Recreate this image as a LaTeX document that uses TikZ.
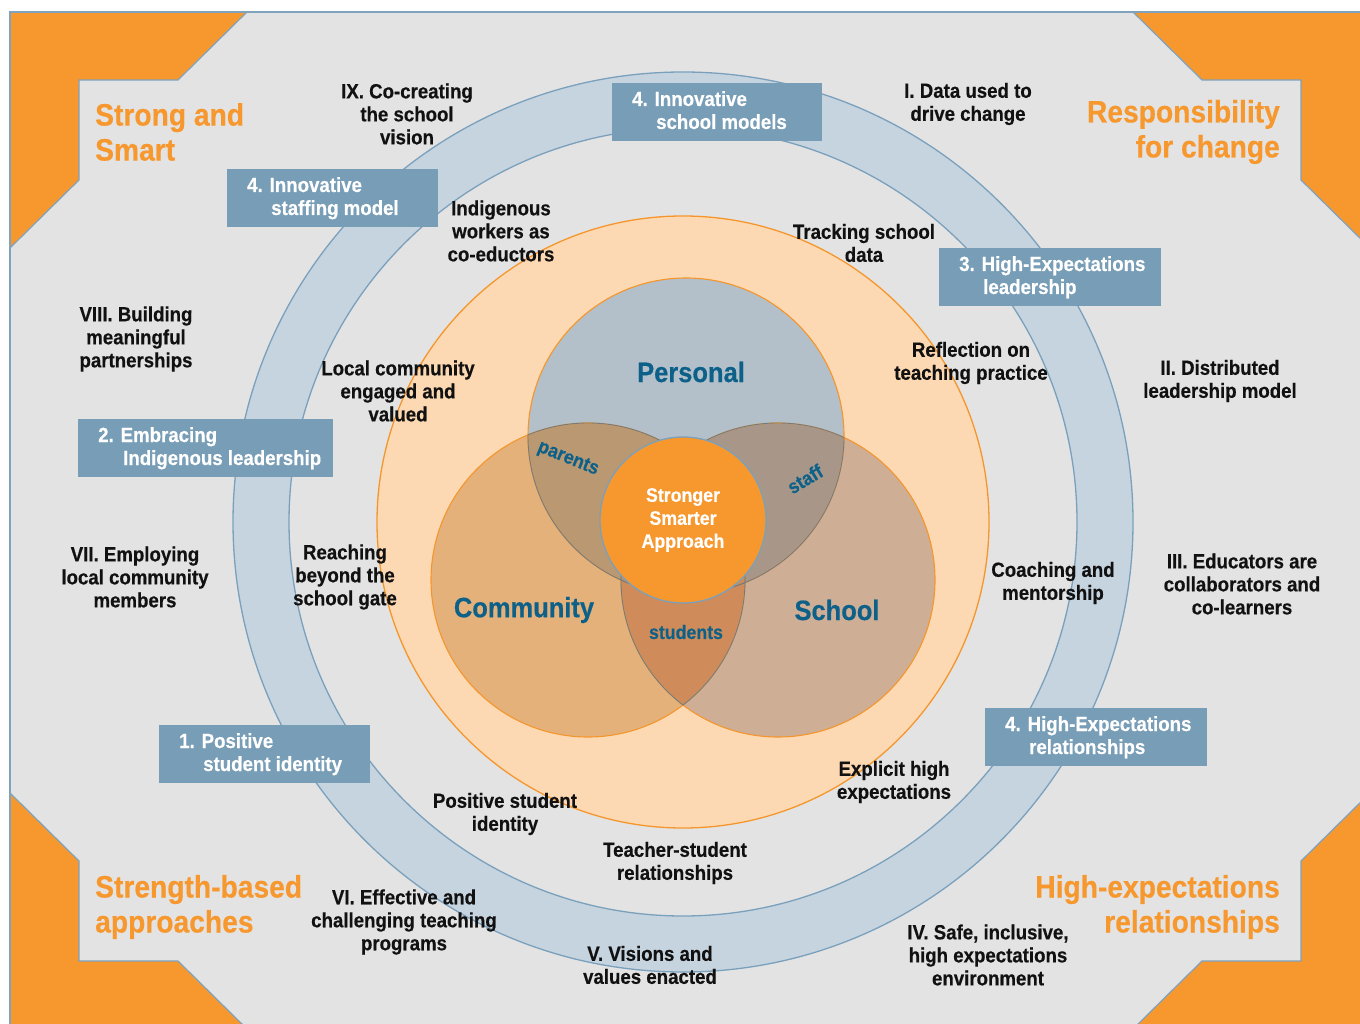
\documentclass[tikz,border=0pt]{standalone}
\usepackage{fontspec}
\setmainfont{Liberation Sans}[FakeStretch=0.91,BoldFeatures={FakeBold=0.4}]
\begin{document}
\definecolor{bggrey}{HTML}{E3E3E3}
\definecolor{corner}{HTML}{F7982F}
\definecolor{frameline}{HTML}{7FA2BD}
\definecolor{ringfill}{HTML}{C6D4E0}
\definecolor{ringline}{HTML}{7AA0BC}
\definecolor{boxfill}{HTML}{789DB6}
\definecolor{peach}{HTML}{FDD9B3}
\definecolor{orangeline}{HTML}{F5962C}
\definecolor{personalfill}{HTML}{B3BFC9}
\definecolor{communityfill}{HTML}{E4B17B}
\definecolor{schoolfill}{HTML}{CFAE96}
\definecolor{parentsfill}{HTML}{BA9871}
\definecolor{stafffill}{HTML}{A89789}
\definecolor{studentsfill}{HTML}{CF8C5A}
\definecolor{lensline}{HTML}{707D87}
\definecolor{teal}{HTML}{0D6189}
\definecolor{ink}{HTML}{111111}
\begin{tikzpicture}[x=1pt,y=-1pt,
  body/.style={align=center,inner sep=0pt,text=ink,font=\fontsize{20.5}{23}\selectfont\bfseries},
  title/.style={inner sep=0pt,text=corner,font=\fontsize{31}{35}\selectfont\bfseries},
  lbox/.style={fill=boxfill,draw=none,inner sep=0pt,minimum height=58pt,anchor=north west},
  ltext/.style={inner sep=0pt,anchor=base west,text=white,font=\fontsize{20.5}{23}\selectfont\bfseries},
  venn/.style={inner sep=0pt,text=teal,font=\fontsize{28}{30}\selectfont\bfseries},
  vsmall/.style={inner sep=0pt,text=teal,font=\fontsize{19.5}{22}\selectfont\bfseries},
  cornerfill/.style={fill=corner},
  corneredge/.style={draw=frameline,line width=1.2pt},
  ringedge/.style={draw=ringline,line width=1.3pt},
  lens/.style={draw=lensline,line width=0.9pt},
  vennedge/.style={draw=orangeline,line width=1.1pt}]
\useasboundingbox (0,0) rectangle (1360,1024);
\fill[white] (0,0) rectangle (1360,1024);

% outer panel
\begin{scope}
\clip (0,0) rectangle (1360,1024);
\filldraw[fill=bggrey,draw=frameline,line width=1.5pt] (10,12) rectangle (1370,1029);

% orange corner notches
\fill[cornerfill] (10,12) -- (247,12) -- (178,80) -- (79,80) -- (79,180) -- (10,248) -- cycle;
\draw[corneredge] (247,12) -- (178,80) -- (79,80) -- (79,180) -- (10,248);
\fill[cornerfill] (1370,12) -- (1133,12) -- (1202,80) -- (1301,80) -- (1301,180) -- (1370,248) -- cycle;
\draw[corneredge] (1133,12) -- (1202,80) -- (1301,80) -- (1301,180) -- (1370,248);
\fill[cornerfill] (10,1029) -- (247,1029) -- (178,961) -- (79,961) -- (79,861) -- (10,793) -- cycle;
\draw[corneredge] (247,1029) -- (178,961) -- (79,961) -- (79,861) -- (10,793);
\fill[cornerfill] (1370,1029) -- (1133,1029) -- (1202,961) -- (1301,961) -- (1301,861) -- (1370,793) -- cycle;
\draw[corneredge] (1133,1029) -- (1202,961) -- (1301,961) -- (1301,861) -- (1370,793);
\draw[frameline,line width=1.5pt] (10,1029) -- (10,12) -- (1370,12);
\end{scope}

% blue ring
\coordinate (c) at (683,522);
\fill[ringfill,even odd rule] (c) circle[radius=450] (c) circle[radius=394];
\draw[ringedge] (c) circle[radius=450];
\draw[ringedge] (c) circle[radius=394];

% peach disc
\filldraw[fill=peach,draw=orangeline,line width=1.3pt] (c) circle[radius=306];

% three-way Venn diagram
\coordinate (P) at (686,436);
\coordinate (Cm) at (588,580);
\coordinate (S) at (778,580);
\fill[personalfill] (P) circle[radius=158];
\fill[communityfill] (Cm) circle[radius=157];
\fill[schoolfill] (S) circle[radius=157];
\begin{scope}
\clip (P) circle[radius=158];
\fill[parentsfill] (Cm) circle[radius=157];
\fill[stafffill] (S) circle[radius=157];
\end{scope}
\begin{scope}
\clip (Cm) circle[radius=157];
\fill[studentsfill] (S) circle[radius=157];
\end{scope}
\draw[vennedge] (P) circle[radius=158];
\draw[vennedge] (Cm) circle[radius=157];
\draw[vennedge] (S) circle[radius=157];
\begin{scope}
\clip (P) circle[radius=158];
\draw[lens] (Cm) circle[radius=157];
\draw[lens] (S) circle[radius=157];
\end{scope}
\begin{scope}
\clip (Cm) circle[radius=157];
\draw[lens] (P) circle[radius=158];
\draw[lens] (S) circle[radius=157];
\end{scope}
\begin{scope}
\clip (S) circle[radius=157];
\draw[lens] (P) circle[radius=158];
\draw[lens] (Cm) circle[radius=157];
\end{scope}

\node[venn] (personal) at (691,372) {Personal};
\node[venn] (community) at (524,610) {Community};
\node[venn] (school) at (837,610) {School};
\node[vsmall,rotate=-22] (parents) at (568,459) {parents};
\node[vsmall,rotate=31] (staff) at (805,479) {staff};
\node[vsmall] (students) at (686,632) {students};

\node[circle,fill=corner,draw=ringline,line width=1.3pt,minimum size=166pt,inner sep=0pt,
      align=center,text=white,font=\fontsize{19.5}{23}\selectfont\bfseries] (core) at (683,520)
      {Stronger\\Smarter\\Approach};

% corner titles
\node[title,anchor=west,align=left] (t1) at (95,132) {Strong and\\Smart};
\node[title,anchor=east,align=right] (t2) at (1280,132) {Responsibility\\for change};
\node[title,anchor=west,align=left] (t3) at (95,907) {Strength-based\\approaches};
\node[title,anchor=east,align=right] (t4) at (1280,907) {High-expectations\\relationships};

% outer principles
\node[body] (p9) at (407,114) {IX. Co-creating\\the school\\vision};
\node[body] (p1) at (968,104) {I. Data used to\\drive change};
\node[body] (p8) at (136,339) {VIII. Building\\meaningful\\partnerships};
\node[body] (p2) at (1220,381) {II. Distributed\\leadership model};
\node[body] (p7) at (135,577) {VII. Employing\\local community\\members};
\node[body] (p3) at (1242,584) {III. Educators are\\collaborators and\\co-learners};
\node[body] (p6) at (404,922) {VI. Effective and\\challenging teaching\\programs};
\node[body] (p5) at (650,965) {V. Visions and\\values enacted};
\node[body] (p4) at (988,955) {IV. Safe, inclusive,\\high expectations\\environment};

% inner practices
\node[body] (i1) at (501,231) {Indigenous\\workers as\\co-eductors};
\node[body] (i2) at (864,243) {Tracking school\\data};
\node[body] (i3) at (398,391) {Local community\\engaged and\\valued};
\node[body] (i4) at (971,363) {Reflection on\\teaching practice};
\node[body] (i5) at (345,577) {Reaching\\beyond the\\school gate};
\node[body] (i6) at (1053,583) {Coaching and\\mentorship};
\node[body] (i7) at (894,782) {Explicit high\\expectations};
\node[body] (i8) at (505,814) {Positive student\\identity};
\node[body] (i9) at (675,863) {Teacher-student\\relationships};

% labels on the ring
\node[lbox,minimum width=210pt] (b1) at (612,83) {};
\node[ltext] (b1a) at (632,106) {4. Innovative};
\node[ltext] (b1b) at (656,129) {school models};

\node[lbox,minimum width=211pt] (b2) at (227,169) {};
\node[ltext] (b2a) at (247,192) {4. Innovative};
\node[ltext] (b2b) at (271,215) {staffing model};

\node[lbox,minimum width=222pt] (b3) at (939,248) {};
\node[ltext] (b3a) at (959,271) {3. High-Expectations};
\node[ltext] (b3b) at (983,294) {leadership};

\node[lbox,minimum width=255pt] (b4) at (78,419) {};
\node[ltext] (b4a) at (98,442) {2. Embracing};
\node[ltext] (b4b) at (123,465) {Indigenous leadership};

\node[lbox,minimum width=211pt] (b5) at (159,725) {};
\node[ltext] (b5a) at (179,748) {1. Positive};
\node[ltext] (b5b) at (203,771) {student identity};

\node[lbox,minimum width=222pt] (b6) at (985,708) {};
\node[ltext] (b6a) at (1005,731) {4. High-Expectations};
\node[ltext] (b6b) at (1029,754) {relationships};
\end{tikzpicture}
\end{document}
